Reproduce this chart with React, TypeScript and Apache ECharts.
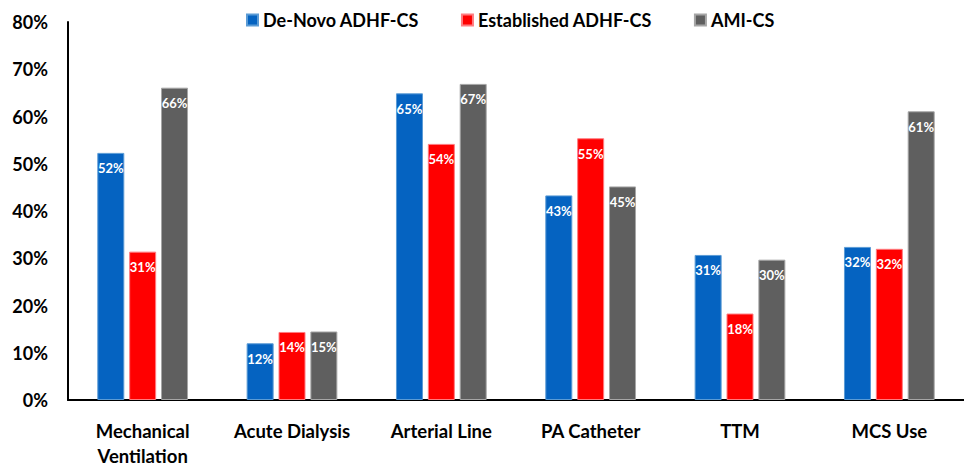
import React, { useEffect, useRef } from "react";
import * as echarts from "echarts";

const categories = ["Mechanical\nVentilation", "Acute Dialysis", "Arterial Line", "PA Catheter", "TTM", "MCS Use"];
const seriesNames = ["De-Novo ADHF-CS", "Established ADHF-CS", "AMI-CS"];
const deNovo = [52.3, 12.0, 64.9, 43.3, 30.7, 32.4];
const established = [31.4, 14.4, 54.2, 55.4, 18.3, 32.0];
const amiCs = [66.1, 14.5, 66.9, 45.2, 29.7, 61.1];
const yTicks = [0, 10, 20, 30, 40, 50, 60, 70, 80];
const colors = ["#0563C1", "#FF0000", "#5F5F5F"];
const borders = ["#5B9BD5", "#FF7C80", "#A6A6A6"];

const FONT = "Lato";

export default function App() {
  const ref = useRef<HTMLDivElement>(null);
  useEffect(() => {
    if (!ref.current) return;
    const chart = echarts.init(ref.current, undefined, { renderer: "svg" });
    const data = [deNovo, established, amiCs];
    chart.setOption({
      animation: false,
      textStyle: { fontFamily: FONT },
      legend: {
        top: 6,
        left: 241,
        itemWidth: 11,
        itemHeight: 11,
        itemGap: 42,
        icon: "rect",
        textStyle: { fontFamily: FONT, fontWeight: "bold", fontSize: 18, color: "#000" },
        data: seriesNames,
      },
      grid: { left: 68, right: -8, top: 22, bottom: 65 },
      xAxis: {
        type: "category",
        data: categories,
        axisLine: { lineStyle: { color: "#000", width: 2 } },
        axisTick: { show: false },
        axisLabel: {
          fontFamily: FONT,
          fontWeight: "bold",
          fontSize: 18.5,
          color: "#000",
          margin: 18,
          lineHeight: 25,
          interval: 0,
        },
      },
      yAxis: {
        type: "value",
        min: 0,
        max: 80,
        interval: 10,
        axisLine: { show: true, lineStyle: { color: "#000", width: 2 } },
        axisTick: { show: false },
        splitLine: { show: false },
        axisLabel: {
          fontFamily: FONT,
          fontWeight: "bold",
          fontSize: 18,
          color: "#000",
          margin: 20,
          formatter: (v: number) => (yTicks.includes(v) ? v + "%" : ""),
        },
      },
      series: seriesNames.map((name, i) => ({
        name,
        type: "bar",
        data: data[i],
        barWidth: 27,
        barGap: "18%",
        itemStyle: { color: colors[i], borderColor: borders[i], borderWidth: 1 },
        label: {
          show: true,
          position: "insideTop",
          distance: 9,
          color: "#fff",
          fontFamily: FONT,
          fontWeight: "bold",
          fontSize: 13,
          formatter: (p: any) => Math.round(p.value) + "%",
        },
      })),
    });
    return () => chart.dispose();
  }, []);
  return (
    <div
      ref={ref}
      style={{ position: "absolute", left: 0, top: 0, width: 964, height: 468, background: "#fff" }}
    />
  );
}
